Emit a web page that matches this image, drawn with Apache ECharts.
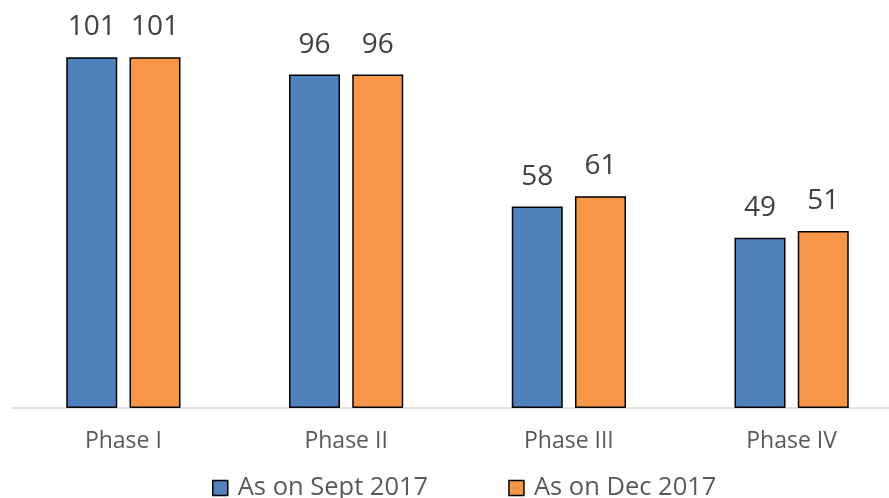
<!DOCTYPE html>
<html>
<head>
<meta charset="utf-8">
<script src="https://cdn.jsdelivr.net/npm/echarts@6/dist/echarts.min.js"></script>
<style>
  html, body { margin: 0; padding: 0; background: #fff; }
  #chart { width: 889px; height: 498px; }
</style>
</head>
<body>
<div id="chart"></div>
<script>
// Number of projects per phase at two reporting dates
const categories = ['Phase I', 'Phase II', 'Phase III', 'Phase IV'];
const seriesNames = ['As on Sept 2017', 'As on Dec 2017'];
const septValues = [101, 96, 58, 49];
const decValues = [101, 96, 61, 51];
const colors = ['#4f81bd', '#f79646'];

const font = '"Open Sans", "Noto Sans", sans-serif';

const chart = echarts.init(document.getElementById('chart'));

function barSeries(name, data, color) {
  return {
    name: name,
    type: 'bar',
    data: data,
    barWidth: 51,
    barGap: '24%',
    itemStyle: { color: color, borderColor: '#000', borderWidth: 1.5 },
    label: {
      show: true,
      position: 'top',
      distance: 16,
      color: '#404040',
      fontFamily: font,
      fontSize: 28
    }
  };
}

chart.setOption({
  animation: false,
  grid: {
    left: 12, right: -14, top: 26, bottom: 90,
    containLabel: false,
    outerBoundsMode: 'none'
  },
  legend: {
    top: 475,
    left: 212,
    padding: 0,
    itemWidth: 15,
    itemHeight: 15,
    itemGap: 80,
    icon: 'rect',
    itemStyle: { borderColor: '#000', borderWidth: 1.5 },
    textStyle: { color: '#595959', fontFamily: font, fontSize: 25.5, padding: [0, 0, 0, 5] },
    data: seriesNames
  },
  xAxis: {
    type: 'category',
    data: categories,
    axisLine: { lineStyle: { color: '#d9d9d9', width: 1.5 } },
    axisTick: { show: false },
    axisLabel: { color: '#595959', fontFamily: font, fontSize: 23, margin: 22 }
  },
  yAxis: {
    type: 'value',
    min: 0,
    max: 110,
    show: false,
    splitLine: { show: false }
  },
  series: [
    barSeries(seriesNames[0], septValues, colors[0]),
    barSeries(seriesNames[1], decValues, colors[1])
  ]
});
</script>
</body>
</html>
